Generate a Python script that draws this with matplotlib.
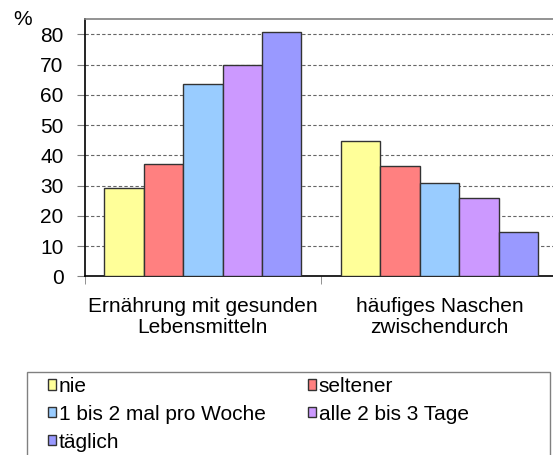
import matplotlib
matplotlib.use("Agg")
import matplotlib.pyplot as plt
from matplotlib.patches import Rectangle
import numpy as np

categories = ["Ernährung mit gesunden\nLebensmitteln", "häufiges Naschen\nzwischendurch"]
series = ["nie", "seltener", "1 bis 2 mal pro Woche", "alle 2 bis 3 Tage", "täglich"]
values = {
    "nie": [29.1, 44.8],
    "seltener": [37.0, 36.5],
    "1 bis 2 mal pro Woche": [63.5, 30.7],
    "alle 2 bis 3 Tage": [69.8, 26.0],
    "täglich": [80.7, 14.5],
}
colors = ["#FFFF99", "#FF8080", "#99CCFF", "#CC99FF", "#9999FF"]
yticks = [0, 10, 20, 30, 40, 50, 60, 70, 80]

plt.rcParams['font.family'] = ['Liberation Sans', 'DejaVu Sans']
FS = 15

W, H = 553, 455
fig = plt.figure(figsize=(W / 100, H / 100), dpi=100)
ax = fig.add_axes([84.5 / W, (H - 276.3) / H, (558 - 84.5) / W, (276.3 - 19.3) / H])

x = np.arange(len(categories))
bw = 0.1665
for i, s in enumerate(series):
    ax.bar(x + (i - 2) * bw, values[s], width=bw, color=colors[i],
           edgecolor="#333333", linewidth=1.0, label=s, zorder=3)

ax.set_xlim(-0.5, 1.5)
ax.set_ylim(0, 85)
ax.set_yticks(yticks)
ax.set_yticklabels([str(v) for v in yticks], fontsize=FS)
for v in yticks[1:]:
    ax.axhline(v, color="#666666", linestyle=(0, (3, 2)), linewidth=0.8, zorder=1)

ax.set_xticks(x)
ax.set_xticklabels(categories, fontsize=FS, linespacing=1.1)
ax.set_xticks([-0.5, 0.5, 1.5], minor=True)
ax.tick_params(axis="x", which="major", length=0, pad=15)
ax.tick_params(axis="x", which="minor", length=6, color="#808080", direction="out")
ax.tick_params(axis="y", length=6, color="#808080", pad=9, direction="out")

for side in ["left", "bottom"]:
    ax.spines[side].set_color("black")
    ax.spines[side].set_linewidth(1.2)
ax.spines["top"].set_color("#808080")
ax.spines["top"].set_linewidth(1.2)
ax.spines["right"].set_visible(False)

fig.text(23 / W, 1 - 19.5 / H, "%", fontsize=FS, ha="center", va="center")

# legend box
fig.patches.append(Rectangle((27.3 / W, -0.05), (550 - 27.3) / W, (H - 371.7) / H + 0.05,
                             transform=fig.transFigure, fill=False,
                             edgecolor="#808080", linewidth=1.0))
handles, labels = ax.get_legend_handles_labels()
order = [0, 2, 4, 1, 3]
leg = fig.legend([handles[k] for k in order], [labels[k] for k in order], loc="upper left",
                 bbox_to_anchor=(48 / W, 1 - 377 / H), ncol=2, frameon=False,
                 fontsize=FS, handlelength=0.38, handleheight=0.38,
                 handletextpad=0.15, labelspacing=0.42, columnspacing=2.0,
                 borderpad=0, borderaxespad=0)

fig.savefig("out.png", dpi=100)
